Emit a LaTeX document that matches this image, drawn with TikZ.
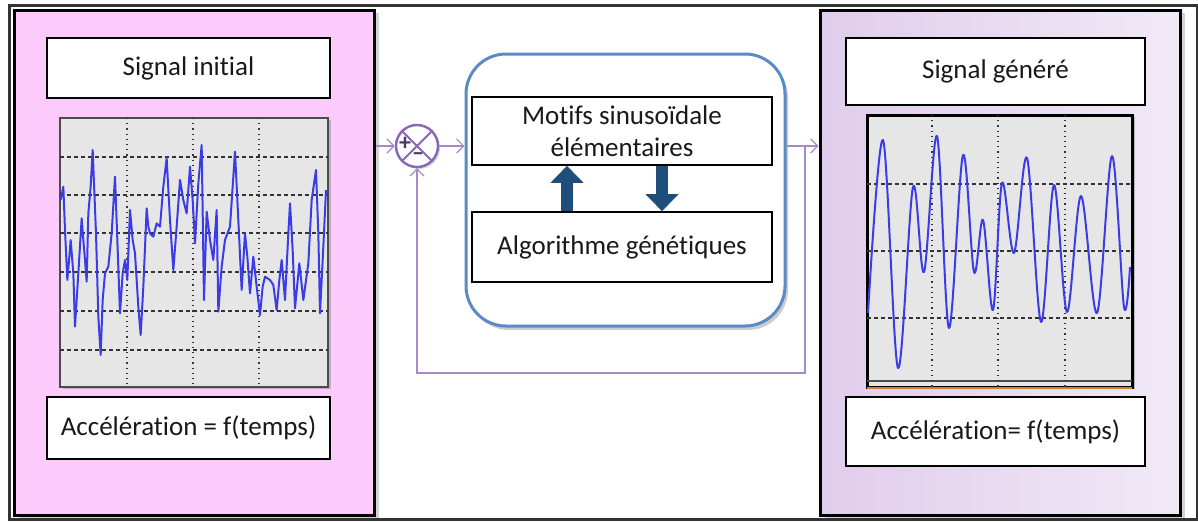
\documentclass[tikz,border=0pt]{standalone}
\usepackage{fontspec}
\setmainfont{Carlito}[Ligatures=NoCommon]
\usetikzlibrary{positioning,arrows.meta,shadows,calc}
\definecolor{panelpink}{HTML}{FCCBFC}
\definecolor{panellilac}{HTML}{E0CCEC}
\definecolor{panellilaclt}{HTML}{F1EAF6}
\definecolor{plotgray}{HTML}{E6E6E6}
\definecolor{sigblue}{HTML}{3C3CE6}
\definecolor{linkpurple}{HTML}{A68BC8}
\definecolor{sumpurple}{HTML}{8A66B6}
\definecolor{coreblue}{HTML}{5B8AC8}
\definecolor{arrowblue}{HTML}{1F4E7A}

\begin{document}
\begin{tikzpicture}[x=0.5pt,y=-0.5pt,
  panel/.style={draw=black,line width=1.5pt,minimum width=180pt,minimum height=252.5pt,
    drop shadow={opacity=0.35,shadow xshift=2.5pt,shadow yshift=-1.5pt}},
  textbox/.style={draw=black,line width=0.8pt,fill=white,inner sep=0pt,align=center,
    font=\fontsize{13.5}{16}\selectfont,text=black!90},
  plotframe/.style={fill=plotgray,draw=black!70,line width=1pt,
    drop shadow={opacity=0.45,shadow xshift=1.5pt,shadow yshift=-1pt}},
  gridv/.style={black!80,line width=0.6pt,dotted},
  gridh/.style={black!80,line width=0.6pt,dash pattern=on 2pt off 1.5pt},
  signal/.style={sigblue,line width=1pt,line join=round},
  link/.style={linkpurple,line width=0.6pt},
  linkarrow/.style={link,-{Straight Barb[length=3.5pt,width=7pt]}},
  bigarrow/.style={arrowblue,line width=6pt,-{Triangle[length=8.5pt,width=16pt]}}]

\useasboundingbox (0,0) rectangle (1198,521);
\draw[black!80,line width=1.5pt] (9,5) rectangle (1197,519);

\node[panel,fill=panelpink] (inpanel) at (194,262.5) {};
\node[panel,left color=panellilac,right color=panellilaclt] (outpanel) at (1000,262.5) {};

\node[textbox,minimum width=141.5pt,minimum height=30pt] (intitle) at (188.5,68) {Signal initial};
\node[textbox,minimum width=141.5pt,minimum height=31pt] (inaxis) at (188.5,428) {Accélération = f(temps)};
\node[textbox,minimum width=149.5pt,minimum height=33.5pt] (outtitle) at (995.5,71.5) {Signal généré};
\node[textbox,minimum width=149.5pt,minimum height=34.5pt] (outaxis) at (995.5,431.5) {Accélération= f(temps)};

% signal initial
\draw[plotframe] (60,118) rectangle (328,387);
\foreach \gx in {127,193,259} \draw[gridv] (\gx,118) -- (\gx,387);
\foreach \gy in {157,195,233,272,311,350} \draw[gridh] (60,\gy) -- (328,\gy);
\begin{scope}
  \clip (60,118) rectangle (328,387);
  \begin{scope}[shift={(40,100)},scale=1/3]
    \draw[signal] (62,300) -- (70,260) -- (75,390) -- (82,540) -- (88,470) -- (92,420) -- (100,520) -- (105,680)
      -- (110,600) -- (115,520) -- (125,355) -- (130,420) -- (135,480) -- (140,545) -- (145,340) -- (152,260) -- (158,150) -- (168,400)
      -- (175,650) -- (182,765) -- (188,600) -- (195,520) -- (205,500) -- (215,400) -- (225,230) -- (232,420)
      -- (240,640) -- (248,520) -- (255,480) -- (262,540) -- (270,330) -- (278,420) -- (285,460) -- (295,620) -- (302,705) -- (310,560)
      -- (320,325) -- (325,380) -- (330,400) -- (340,410) -- (350,370) -- (360,380) -- (370,260) -- (380,175)
      -- (390,360) -- (400,510) -- (410,380) -- (420,240) -- (430,300) -- (440,340) -- (450,200)
      -- (458,300) -- (465,430) -- (475,250) -- (485,135) -- (492,600) -- (500,335) -- (510,420)
      -- (520,480) -- (530,330) -- (535,635) -- (545,500) -- (555,420) -- (570,380) -- (585,155)
      -- (595,360) -- (605,570) -- (615,400) -- (622,470) -- (630,580) -- (640,470) -- (650,560)
      -- (660,645) -- (668,560) -- (675,530) -- (690,540) -- (700,555) -- (710,630) -- (718,540) -- (725,480) -- (735,600)
      -- (745,400) -- (750,310) -- (758,450) -- (765,625) -- (778,490) -- (790,600) -- (805,490) -- (815,300)
      -- (828,210) -- (835,400) -- (840,640) -- (850,440) -- (858,270);
  \end{scope}
\end{scope}

% signal genere
\draw[plotframe,draw=black,line width=1.5pt] (867,115) rectangle (1132,387);
\draw[black!70,line width=0.6pt] (867,381) -- (1132,381);
\draw[brown!70!orange,line width=0.8pt] (867,388) -- (1132,388);
\foreach \gx in {932,998,1065} \draw[gridv] (\gx,115) -- (\gx,387);
\foreach \gy in {184,251,318} \draw[gridh] (867,\gy) -- (1132,\gy);
\begin{scope}
  \clip (867,115) rectangle (1132,387);
  \draw[signal] plot[smooth,tension=0.55] coordinates {(868,313) (883,140) (898,368) (913,187)
    (924,272) (937,136) (949,328) (963,155) (974,272) (983,220) (993,310) (1002,183) (1014,253)
    (1027,158) (1041,322) (1054,185) (1067,312) (1081,196) (1097,313) (1112,156) (1124,307) (1130,267)};
\end{scope}

% bloc central
\node[draw=coreblue,line width=1.5pt,fill=white,rounded corners=20pt,minimum width=159.5pt,
  minimum height=136pt,drop shadow={opacity=0.4,shadow xshift=1.5pt,shadow yshift=-2pt}] (core) at (625.5,190) {};
\node[textbox,minimum width=150pt,minimum height=34pt] (motifs) at (622,131) {Motifs sinusoïdale\\élémentaires};
\node[textbox,minimum width=150pt,minimum height=35pt] (algo) at (622,247) {Algorithme génétiques};
\draw[bigarrow] ([xshift=-27.5pt]algo.north) -- ([xshift=-27.5pt]motifs.south);
\draw[bigarrow] ([xshift=20pt]motifs.south) -- ([xshift=20pt]algo.north);

% comparateur
\node[circle,draw=sumpurple,line width=1.2pt,fill=white,minimum size=21pt,inner sep=0pt,
  drop shadow={opacity=0.3,shadow xshift=1pt,shadow yshift=-1pt}] (sum) at (417,146) {};
\draw[sumpurple,line width=0.9pt] (sum.north west) -- (sum.south east) (sum.north east) -- (sum.south west);
\node[sumpurple!55!black,font=\bfseries\large,inner sep=0pt] (plus) at (405,144) {+};
\node[sumpurple!55!black,font=\bfseries\large,inner sep=0pt] (minus) at (418,157) {–};

\coordinate (split) at (805,146);
\coordinate (loopcorner) at (805,373);
\draw[linkarrow] (inpanel.east |- sum.west) -- (sum.west);
\draw[linkarrow] (sum.east) -- (core.west |- sum.east);
\draw[linkarrow] (core.east |- sum.east) -- (outpanel.west |- sum.east);
\draw[linkarrow] (split) -- (loopcorner) -| (sum.south);
\end{tikzpicture}
\end{document}
